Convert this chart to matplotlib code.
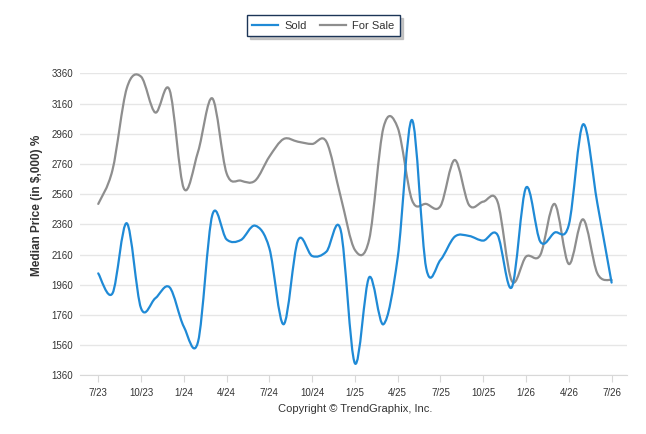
import matplotlib
matplotlib.use("Agg")
import matplotlib.pyplot as plt
import numpy as np
from matplotlib.path import Path
from matplotlib.patches import PathPatch
from matplotlib.lines import Line2D

# monthly data 7/23 .. 7/26
tick_labels = ['7/23', '10/23', '1/24', '4/24', '7/24', '10/24', '1/25',
               '4/25', '7/25', '10/25', '1/26', '4/26', '7/26']
sold = [2035, 1903, 2367, 1804, 1870, 1943, 1682, 1583, 2422, 2260, 2256, 2351,
        2201, 1698, 2252, 2150, 2179, 2322, 1439, 2009, 1698, 2140, 3051, 2069,
        2124, 2278, 2283, 2252, 2290, 1943, 2603, 2245, 2305, 2356, 3022, 2499, 1974]
for_sale = [2495, 2720, 3261, 3338, 3100, 3250, 2598, 2841, 3194, 2698, 2649, 2649,
            2808, 2925, 2907, 2892, 2907, 2543, 2190, 2260, 3000, 3000, 2521, 2495,
            2481, 2786, 2488, 2510, 2510, 1985, 2146, 2157, 2495, 2097, 2393, 2035, 1991]
y_ticks = [1360, 1560, 1760, 1960, 2160, 2360, 2560, 2760, 2960, 3160, 3360]

BLUE = '#1f8ad6'
GRAY = '#8e8e8e'
TXT = '#333333'


def spline_path(xs, ys):
    """
    Catmull-Rom curve through the points, built as cubic bezier segments
    """
    n = len(xs)
    pts = np.column_stack([xs, ys]).astype(float)
    tang = np.zeros_like(pts)
    tang[1:-1] = (pts[2:] - pts[:-2]) / 2.0
    tang[0] = (pts[1] - pts[0]) / 2.0
    tang[-1] = (pts[-1] - pts[-2]) / 2.0
    verts = [tuple(pts[0])]
    codes = [Path.MOVETO]
    for i in range(n - 1):
        c1 = pts[i] + tang[i] / 3.0
        c2 = pts[i + 1] - tang[i + 1] / 3.0
        verts += [tuple(c1), tuple(c2), tuple(pts[i + 1])]
        codes += [Path.CURVE4] * 3
    return Path(verts, codes)


fig = plt.figure(figsize=(6.46, 4.34), dpi=100)
ax = fig.add_axes([80 / 646, 1 - 375.3 / 434, 547 / 646, 302 / 434])

x = np.arange(len(sold))
for series, col in [(for_sale, GRAY), (sold, BLUE)]:
    patch = PathPatch(spline_path(x, series), facecolor='none', edgecolor=col,
                      lw=1.6, capstyle='round', joinstyle='round')
    ax.add_patch(patch)

ax.set_xlim(-1.28, 37.08)
ax.set_ylim(1360, 3360)
ax.set_yticks(y_ticks)
ax.set_yticklabels([str(v) for v in y_ticks], fontsize=7, color=TXT,
                   family='Liberation Sans')
ax.set_xticks(np.arange(0, 37, 3))
ax.set_xticklabels(tick_labels, fontsize=7, color=TXT, family='Liberation Sans')
ax.tick_params(axis='y', length=0, pad=5)
ax.tick_params(axis='x', length=5, color='#d8d8d8', pad=4)
ax.grid(axis='y', color='#e6e6e6', lw=1)
ax.set_axisbelow(True)
for s in ['top', 'right', 'left']:
    ax.spines[s].set_visible(False)
ax.spines['bottom'].set_color('#d8d8d8')

fig.text(37 / 646, 1 - 205 / 434, 'Median Price (in $,000) %', rotation=90,
         ha='center', va='center', fontsize=8.5, fontweight='bold', color=TXT,
         family='Liberation Sans')
fig.text(355 / 646, 1 - 409 / 434, 'Copyright \u00a9 TrendGraphix, Inc.',
         ha='center', va='center', fontsize=8, color=TXT, family='Liberation Sans')

handles = [Line2D([], [], color=BLUE, lw=1.6), Line2D([], [], color=GRAY, lw=1.6)]
leg = fig.legend(handles, ['Sold', 'For Sale'], loc='center',
                 bbox_to_anchor=(323.5 / 646, 1 - 25.8 / 434), ncol=2,
                 fancybox=False, shadow={'color': '#b0b0b0', 'alpha': 0.7},
                 framealpha=1, handlelength=2.3,
                 columnspacing=1.2, handletextpad=0.6, borderpad=0.5,
                 prop={'family': 'Liberation Sans', 'size': 8})
leg.get_frame().set_edgecolor('#1c3557')
leg.get_frame().set_linewidth(1.0)
for t in leg.get_texts():
    t.set_color(TXT)

fig.savefig('out.png', dpi=100)
